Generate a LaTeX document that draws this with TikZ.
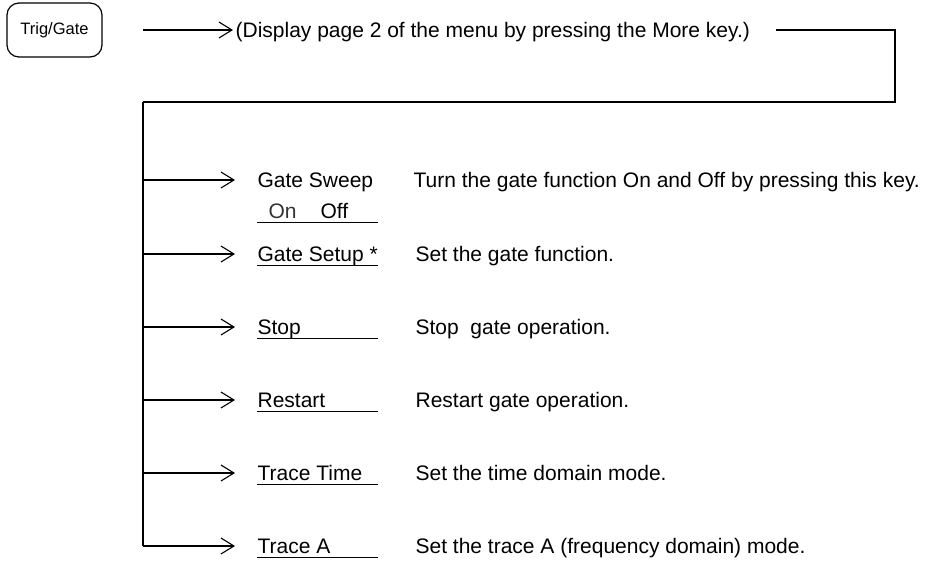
\documentclass[tikz,border=0pt]{standalone}
\usepackage{fontspec}
\setmainfont{Liberation Sans}
\usetikzlibrary{arrows.meta}
\begin{document}
\begin{tikzpicture}[x=1pt,y=-1pt,
  line width=1.2pt,
  arr/.style={-{Straight Barb[length=13pt,width=16pt,line width=1.1pt]}},
  keybox/.style={draw,rounded corners=12pt,minimum width=95pt,minimum height=54pt,inner sep=0pt,font=\fontsize{16.5}{19}\selectfont},
  txt/.style={anchor=west,inner sep=0pt,text height=18.5pt,text depth=3.5pt,font=\fontsize{21}{25}\selectfont},
  softkey/.style={txt}
]
\useasboundingbox (0,0) rectangle (936,566);
% key
\node[keybox] (trig) at (54.5,30) {Trig/Gate};
\coordinate (a0) at (143,30);
\node[txt] (disp) at (235,30) {(Display page 2 of the menu by pressing the More key.)};
\coordinate (r0) at (776,30);
\coordinate (r1) at (895,30);
\coordinate (r2) at (895,102);
\coordinate (c0) at (143,102);
\draw[arr] (a0) -- ([xshift=-2pt]disp.west);
\draw (r0) -- (r1) -- (r2) -- (c0);
% underline end
\coordinate (uend) at (378,0);
% branch points
\coordinate (b1) at (143,180);
\coordinate (b2) at (143,254);
\coordinate (b3) at (143,327);
\coordinate (b4) at (143,400);
\coordinate (b5) at (143,473);
\coordinate (b6) at (143,546);
\draw (c0) -- (b6);
% soft keys
\node[softkey] (k1) at (257,180) {Gate Sweep};
\node[softkey] (k1b) at (257,211) {\hspace{11pt}\textcolor{black!80}{On}\hspace{24pt}Off};
\node[softkey] (k2) at (257,254) {Gate Setup *};
\node[softkey] (k3) at (257,327) {Stop};
\node[softkey] (k4) at (257,400) {Restart};
\node[softkey] (k5) at (257,473) {Trace Time};
\node[softkey] (k6) at (257,546) {Trace A};
\foreach \k in {k1b,k2,k3,k4,k5,k6}{\draw (\k.south west) -- (\k.south west -| uend);}
% arrows
\foreach \b/\k in {b1/k1,b2/k2,b3/k3,b4/k4,b5/k5,b6/k6}{\draw[arr] (\b) -- ([xshift=-22pt]\b -| \k.west);}
% descriptions
\node[txt] (d1) at (413,180) {Turn the gate function On and Off by pressing this key.};
\node[txt] (d2) at (415,254) {Set the gate function.};
\node[txt] (d3) at (415,327) {Stop\ \ gate operation.};
\node[txt] (d4) at (415,400) {Restart gate operation.};
\node[txt] (d5) at (415,473) {Set the time domain mode.};
\node[txt] (d6) at (415,546) {Set the trace A (frequency domain) mode.};
\end{tikzpicture}
\end{document}
